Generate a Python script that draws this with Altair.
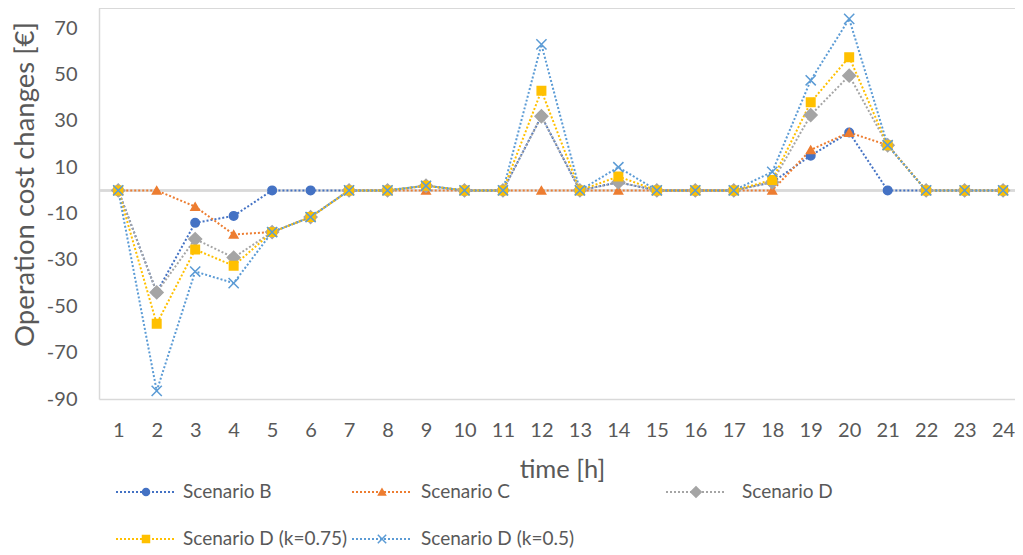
import altair as alt
import pandas as pd

hours = list(range(1, 25))
series_names = ["Scenario B", "Scenario C", "Scenario D", "Scenario D (k=0.75)", "Scenario D (k=0.5)"]
scen_b = [0, -44, -14, -11, 0, 0, 0, 0, 2, 0, 0, 32, 0, 3.5, 0, 0, 0, 3.5, 15, 25, 0, 0, 0, 0]
scen_c = [0, 0, -7, -19, -18, -11.5, 0, 0, 0, 0, 0, 0, 0, 0, 0, 0, 0, 0, 17.5, 25, 19.5, 0, 0, 0]
scen_d = [0, -44, -21, -29, -18, -11.5, 0, 0, 2, 0, 0, 32, 0, 3.5, 0, 0, 0, 3.5, 32.5, 49.5, 19.5, 0, 0, 0]
scen_d75 = [0, -57.5, -25.5, -32.5, -18, -11.5, 0, 0, 2, 0, 0, 43, 0, 6, 0, 0, 0, 4.5, 38, 57.5, 19.5, 0, 0, 0]
scen_d50 = [0, -86.5, -35, -40, -18, -11.5, 0, 0, 2, 0, 0, 63, 0, 10, 0, 0, 0, 8, 47.5, 74, 19.5, 0, 0, 0]
y_ticks = [-90, -70, -50, -30, -10, 10, 30, 50, 70]

colors = ["#4472C4", "#ED7D31", "#A5A5A5", "#FFC000", "#5B9BD5"]
shapes = ["circle", "triangle-up", "M-1.5,0L0,-1.5L1.5,0L0,1.5Z", "square",
          "M-1.2,-1.2L1.2,1.2M-1.2,1.2L1.2,-1.2"]

# legend columns (as in the reference): col 1 = B, D(0.75); col 2 = C, D(0.5); col 3 = D
legend_columns = [[0, 3], [1, 4], [2]]

values = scen_b + scen_c + scen_d + scen_d75 + scen_d50
df = pd.DataFrame({
    "hour": hours * len(series_names),
    "value": values,
    "series": [n for n in series_names for _ in hours],
})

FONT = "Lato"
GREY_TXT = "#595959"
BORDER = "#D9D9D9"
Y_MIN, Y_TOP = -90, 78.7
W, H = 916, 391

x_enc = alt.X("hour:Q", scale=alt.Scale(domain=[0.5, 24.31], nice=False, zero=False),
              axis=alt.Axis(values=hours, title="time [h]", grid=False, ticks=False,
                            domainColor=BORDER, domainWidth=1.5, labelFont=FONT,
                            labelFontSize=20, labelColor=GREY_TXT, labelPadding=21,
                            labelFlush=False, titleFont=FONT, titleFontSize=25.5,
                            titleFontWeight="normal", titleColor=GREY_TXT,
                            titleX=463, titleY=70, titleBaseline="middle", titleAlign="center"))
y_enc = alt.Y("value:Q", scale=alt.Scale(domain=[Y_MIN, Y_TOP], nice=False, zero=False),
              axis=alt.Axis(values=y_ticks, title="Operation cost changes [€]", grid=False,
                            ticks=False, domainColor=BORDER, domainWidth=1.5, labelFont=FONT,
                            labelFontSize=20, labelColor=GREY_TXT, labelPadding=22,
                            labelExpr="'' + datum.value",
                            labelFlush=False, titleFont=FONT, titleFontSize=27.5,
                            titleFontWeight="normal", titleColor=GREY_TXT,
                            titleX=-74, titleY=176, titleAngle=270,
                            titleBaseline="middle", titleAlign="center"))

base = alt.Chart(df)

zero_rule = alt.Chart(df).mark_rule(color=BORDER, strokeWidth=1.5).encode(y=alt.datum(0))
top_rule = alt.Chart(df).mark_rule(color=BORDER, strokeWidth=1.5).encode(y=alt.datum(Y_TOP))

lines_all = base.mark_line(strokeDash=[2, 2], strokeWidth=2).encode(
    x=x_enc, y=y_enc,
    color=alt.Color("series:N", scale=alt.Scale(domain=series_names, range=colors), legend=None),
)
points_all = base.mark_point(filled=True, opacity=1, size=72, strokeWidth=1.5).encode(
    x=x_enc, y=y_enc,
    fill=alt.Fill("series:N", scale=alt.Scale(domain=series_names, range=colors), legend=None),
    stroke=alt.Stroke("series:N", scale=alt.Scale(domain=series_names, range=colors), legend=None),
    shape=alt.Shape("series:N", scale=alt.Scale(domain=series_names, range=shapes), legend=None),
)

# ---- legends (drawn from scales only, one legend per column) ----
LSIZE = 49
r = (LSIZE ** 0.5) / 2
line_path = f"M-{30 / r:.4f},0L{30 / r:.4f},0"
col_x = [37.5, 273.5, 587.5]
col_label_offset = [27.5, 29.5, 36.5]
LY = 474.5
common = dict(orient="none", title=None, padding=0, symbolSize=LSIZE, labelFont=FONT,
              labelFontSize=19, labelColor=GREY_TXT, legendY=LY, rowPadding=27,
              labelLimit=400, columns=1)

empty = base.transform_filter("false")
line_legends = []
point_legends = []
for ci, idx in enumerate(legend_columns):
    names = [series_names[i] for i in idx]
    cols = [colors[i] for i in idx]
    shps = [shapes[i] for i in idx]
    leg_line = alt.Legend(legendX=col_x[ci], labelOffset=col_label_offset[ci],
                          symbolType=line_path, symbolDash=[2, 2], symbolStrokeWidth=2,
                          **common)
    leg_pt = alt.Legend(legendX=col_x[ci], labelOffset=col_label_offset[ci],
                        symbolStrokeWidth=1.5, labelOpacity=0, **common)
    line_legends.append(empty.mark_line(strokeDash=[2, 2], strokeWidth=2).encode(
        x=x_enc, y=y_enc,
        color=alt.Color("series:N", scale=alt.Scale(domain=names, range=cols), legend=leg_line),
    ))
    point_legends.append(empty.mark_point(filled=True, opacity=1, size=72, strokeWidth=1.5).encode(
        x=x_enc, y=y_enc,
        fill=alt.Fill("series:N", scale=alt.Scale(domain=names, range=cols), legend=leg_pt),
        stroke=alt.Stroke("series:N", scale=alt.Scale(domain=names, range=cols), legend=leg_pt),
        shape=alt.Shape("series:N", scale=alt.Scale(domain=names, range=shps), legend=leg_pt),
    ))

chart = alt.layer(
    zero_rule, top_rule, lines_all, points_all, *line_legends, *point_legends,
).resolve_scale(
    color="independent", fill="independent", stroke="independent", shape="independent"
).properties(
    width=W, height=H,
    autosize=alt.AutoSizeParams(type="none"),
    padding={"left": 91, "top": 0, "right": 0, "bottom": 150},
).configure_view(strokeWidth=0)

chart.save("out.html", embed_options={"renderer": "svg", "actions": False})
